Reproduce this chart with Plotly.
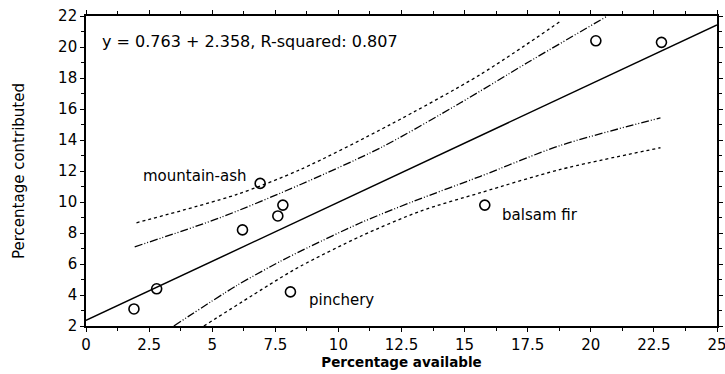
import plotly.graph_objects as go

# Observations
pct_available = [1.9, 2.8, 6.2, 6.9, 7.6, 7.8, 8.1, 15.8, 20.2, 22.8]
pct_contributed = [3.1, 4.4, 8.2, 11.2, 9.1, 9.8, 4.2, 9.8, 20.4, 20.3]

# Regression line (read at the plot edges)
fit_x = [0, 25]
fit_y = [2.36, 21.43]

# Inner band (dash-dot-dot)
inner_up_x = [1.93, 5.3, 8.5, 11.67, 14.84, 17.48, 20.65]
inner_up_y = [7.11, 8.98, 11.13, 13.5, 16.4, 18.98, 21.99]
inner_lo_x = [3.48, 5.96, 7.71, 8.5, 10.88, 12.99, 15.63, 18.8, 22.76]
inner_lo_y = [2.0, 4.6, 6.18, 6.83, 8.66, 10.05, 11.66, 13.65, 15.43]

# Outer band (short dashes)
outer_up_x = [2.0, 5.96, 8.5, 12.06, 15.63, 18.8]
outer_up_y = [8.66, 10.48, 12.1, 15.0, 18.23, 21.66]
outer_lo_x = [4.67, 7.71, 8.5, 10.88, 13.25, 15.63, 18.8, 22.76]
outer_lo_y = [2.0, 5.11, 5.86, 7.79, 9.41, 10.6, 12.1, 13.5]

equation = "y = 0.763 + 2.358, R-squared: 0.807"
labels = ["mountain-ash", "pinchery", "balsam fir"]

FONT = "DejaVu Sans"
OUTER_DASH = "3px,3px"
INNER_DASH = "8px,2px,1px,2px,1px,2px"

fig = go.Figure()
for bx, by, dsh in [(outer_up_x, outer_up_y, OUTER_DASH), (outer_lo_x, outer_lo_y, OUTER_DASH),
                    (inner_up_x, inner_up_y, INNER_DASH), (inner_lo_x, inner_lo_y, INNER_DASH)]:
    fig.add_trace(go.Scatter(x=bx, y=by, mode="lines",
                             line=dict(color="black", width=1.3, dash=dsh,
                                       shape="spline", smoothing=0.8)))
fig.add_trace(go.Scatter(x=fit_x, y=fit_y, mode="lines",
                         line=dict(color="black", width=1.5)))
fig.add_trace(go.Scatter(x=pct_available, y=pct_contributed, mode="markers",
                         marker=dict(symbol="circle-open", size=10, color="black",
                                     line=dict(width=1.6, color="black"))))

fig.add_annotation(x=0.57, y=20.37, text=equation, showarrow=False,
                   xanchor="left", yanchor="middle", font=dict(size=16, color="black", family=FONT))
fig.add_annotation(x=6.43, y=11.66, text=labels[0], showarrow=False,
                   xanchor="right", yanchor="middle", font=dict(size=15, color="black", family=FONT))
fig.add_annotation(x=8.74, y=3.71, text=labels[1], showarrow=False,
                   xanchor="left", yanchor="middle", font=dict(size=15, color="black", family=FONT))
fig.add_annotation(x=16.42, y=9.19, text=labels[2], showarrow=False,
                   xanchor="left", yanchor="middle", font=dict(size=15, color="black", family=FONT))

axis_common = dict(showgrid=False, zeroline=False, showline=True, linecolor="black",
                   linewidth=1.6, mirror="allticks", ticks="outside", ticklen=4,
                   tickwidth=1.3, tickcolor="black", automargin=False,
                   ticklabeloverflow="allow",
                   tickfont=dict(size=15, color="black", family=FONT))

fig.update_xaxes(range=[0, 25], dtick=2.5, tick0=0,
                 minor=dict(dtick=1.25, ticks="outside", ticklen=3, tickcolor="black"),
                 title=dict(text="<b>Percentage available</b>", standoff=3,
                            font=dict(size=13.5, color="black", family=FONT)),
                 **axis_common)
fig.update_yaxes(range=[2, 22], dtick=2, tick0=2,
                 minor=dict(dtick=1, ticks="outside", ticklen=3, tickcolor="black"),
                 title=dict(text="Percentage contributed", standoff=30,
                            font=dict(size=15, color="black", family=FONT)),
                 **axis_common)

fig.update_layout(width=725, height=374, showlegend=False,
                  plot_bgcolor="white", paper_bgcolor="white",
                  margin=dict(l=86, r=8, t=16, b=48))

fig.write_html("out.html", config={"displayModeBar": False},
               post_script="document.body.style.margin='0';")
